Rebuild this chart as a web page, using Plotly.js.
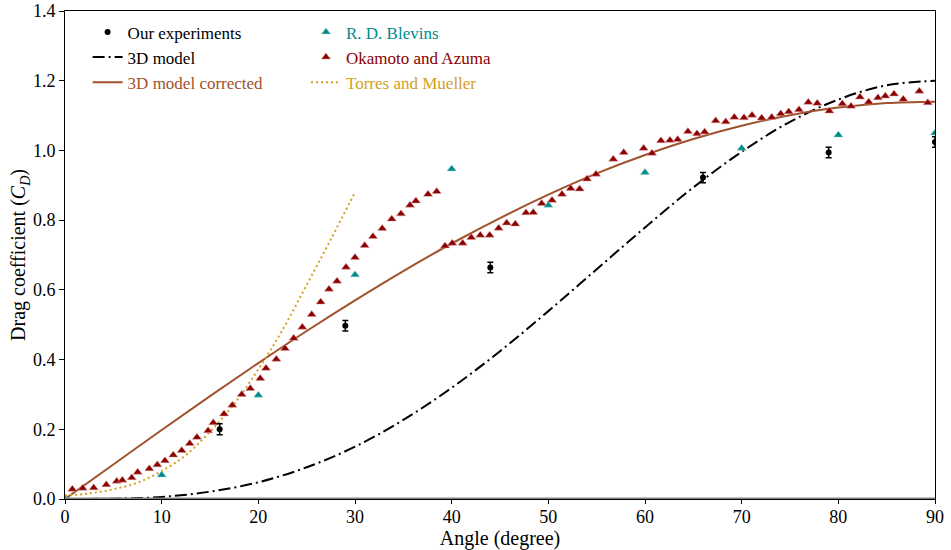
<!DOCTYPE html>
<html>
<head>
<meta charset="utf-8">
<script src="https://cdn.plot.ly/plotly-3.0.1.min.js"></script>
<style>html,body{margin:0;padding:0;background:#fff;}#chart{width:951px;height:550px;}</style>
</head>
<body>
<div id="chart"></div>
<script>
// Our experiments
const expAngle = [16, 29, 44, 66, 79, 90];
const expCd    = [0.200, 0.497, 0.664, 0.922, 0.994, 1.024];
const expErr   = [0.016, 0.015, 0.015, 0.015, 0.015, 0.015];

// R. D. Blevins
const blevAngle = [0, 10, 20, 30, 40, 50, 60, 70, 80, 90];
const blevCd    = [0.0, 0.069, 0.298, 0.643, 0.947, 0.843, 0.937, 1.006, 1.044, 1.05];

// Okamoto and Azuma
const okaAngle = [0.76, 1.83, 2.97, 4.27, 5.35, 5.93, 6.90, 7.52, 8.72, 9.55,
  10.34, 11.2, 12.07, 12.9, 13.65, 14.8, 15.34, 16.45, 17.31, 18.28,
  19.17, 20.2, 20.79, 21.86, 22.76, 23.66, 24.55, 25.52, 26.45, 27.31,
  28.14, 29.07, 30.0, 31.0, 31.86, 32.82, 33.8, 34.76, 35.69, 36.3,
  37.55, 38.45, 39.31, 40.06, 41.14, 42.03, 42.96, 43.93, 44.86, 45.69,
  46.58, 47.69, 48.44, 49.31, 50.38, 51.41, 52.31, 53.24, 54.0, 54.93,
  56.72, 57.8, 59.86, 60.72, 61.65, 62.58, 63.38, 64.44, 65.38, 66.17,
  67.31, 68.35, 69.24, 70.24, 71.07, 72.07, 73.11, 74.04, 74.87, 75.93,
  76.89, 77.82, 79.07, 80.41, 81.31, 82.24, 83.14, 84.1, 84.86, 85.76,
  86.72, 88.38, 89.25];
const okaCd = [0.028, 0.031, 0.032, 0.041, 0.051, 0.054, 0.061, 0.077, 0.087, 0.098,
  0.110, 0.126, 0.139, 0.159, 0.177, 0.196, 0.219, 0.244, 0.269, 0.300,
  0.317, 0.346, 0.375, 0.401, 0.432, 0.461, 0.493, 0.529, 0.565, 0.602,
  0.625, 0.665, 0.693, 0.727, 0.753, 0.776, 0.803, 0.818, 0.843, 0.855,
  0.874, 0.882, 0.726, 0.734, 0.734, 0.750, 0.757, 0.757, 0.777, 0.792,
  0.789, 0.821, 0.822, 0.848, 0.857, 0.874, 0.891, 0.889, 0.918, 0.932,
  0.975, 0.994, 1.006, 0.992, 1.028, 1.029, 1.031, 1.054, 1.048, 1.053,
  1.085, 1.082, 1.095, 1.094, 1.101, 1.093, 1.095, 1.105, 1.111, 1.117,
  1.138, 1.135, 1.113, 1.134, 1.127, 1.153, 1.139, 1.151, 1.156, 1.162,
  1.147, 1.170, 1.137];

// 3D model (read every 5 degrees)
const modelAngle = [0, 5, 10, 15, 20, 25, 30, 35, 40, 45, 50, 55, 60, 65, 70, 75, 80, 85, 90];
const modelCd    = [0, 0.001, 0.006, 0.021, 0.048, 0.091, 0.150, 0.227, 0.319, 0.424,
                    0.539, 0.659, 0.779, 0.894, 0.996, 1.082, 1.146, 1.187, 1.200];

// 3D model corrected
const corrAngle = [0, 5, 10, 15, 20, 25, 30, 35, 40, 45, 50, 55, 60, 65, 70, 75, 80, 85, 90];
const corrCd    = [0, 0.099, 0.198, 0.295, 0.390, 0.482, 0.570, 0.654, 0.733, 0.806,
                   0.873, 0.934, 0.987, 1.033, 1.071, 1.101, 1.123, 1.136, 1.140];

// Torres and Mueller
const torAngle = [0, 2.5, 5, 7.5, 10, 12.5, 15, 17.5, 20, 22.5, 25, 27.5, 30];
const torCd    = [0.010, 0.016, 0.028, 0.047, 0.080, 0.126, 0.193, 0.273, 0.372, 0.485, 0.614, 0.745, 0.880];

const xTicks = [0, 10, 20, 30, 40, 50, 60, 70, 80, 90];
const yTicks = [0.0, 0.2, 0.4, 0.6, 0.8, 1.0, 1.2, 1.4];

const cBrown = '#A0522D', cRed = '#8B0000', cTeal = '#008B8B', cGold = '#D4A020';
const FONT = 'Liberation Serif, Times New Roman, serif';

const traces = [
  {x: modelAngle, y: modelCd, mode: 'lines', name: '3D model', legend: 'legend',
   line: {color: '#000', width: 2, dash: '12px,4px,2px,4px', shape: 'spline'}, legendrank: 2},
  {x: corrAngle, y: corrCd, mode: 'lines', name: '<span style="fill:' + cBrown + '">3D model corrected</span>', legend: 'legend',
   line: {color: cBrown, width: 2, shape: 'spline'}, legendrank: 3},
  {x: torAngle, y: torCd, mode: 'lines', name: '<span style="fill:' + cGold + '">Torres and Mueller</span>', legend: 'legend2',
   line: {color: cGold, width: 2, dash: '2px,3px', shape: 'spline'}, legendrank: 3},
  {x: blevAngle, y: blevCd, mode: 'markers', name: '<span style="fill:' + cTeal + '">R. D. Blevins</span>', legend: 'legend2',
   marker: {symbol: 'triangle-up', size: 8, color: cTeal, line: {color: '#9fd0d0', width: 0.5}}, legendrank: 1},
  {x: okaAngle, y: okaCd, mode: 'markers', name: '<span style="fill:' + cRed + '">Okamoto and Azuma</span>', legend: 'legend2',
   marker: {symbol: 'triangle-up', size: 8, color: cRed, line: {color: '#e0a0a0', width: 0.5}}, legendrank: 2},
  {x: expAngle, y: expCd, mode: 'markers', name: 'Our experiments', legend: 'legend',
   marker: {symbol: 'circle', size: 6, color: '#000'},
   error_y: {type: 'data', array: expErr, visible: true, color: '#000', thickness: 1.5, width: 3}, legendrank: 1}
];

const layout = {
  width: 951, height: 550,
  margin: {l: 65, r: 16, t: 11, b: 51},
  paper_bgcolor: '#fff', plot_bgcolor: '#fff',
  font: {family: FONT, size: 17, color: '#000'},
  showlegend: true,
  xaxis: {range: [0, 90], tickvals: xTicks, ticktext: xTicks.map(String),
    showgrid: false, zeroline: false, showline: true, linecolor: '#000', linewidth: 1, mirror: true,
    ticks: 'outside', ticklen: 4, tickcolor: '#000', tickfont: {family: FONT, size: 18}, ticklabelstandoff: -3,
    title: {text: 'Angle (degree)', font: {family: FONT, size: 20}, standoff: 2}},
  yaxis: {range: [0, 1.4], tickvals: yTicks, ticktext: yTicks.map(v => v.toFixed(1)),
    showgrid: false, zeroline: false, showline: true, linecolor: '#000', linewidth: 1, mirror: true,
    ticks: 'outside', ticklen: 5, tickcolor: '#000', tickfont: {family: FONT, size: 18},
    title: {text: 'Drag coefficient (<i>C</i><sub><i>D</i></sub>)', font: {family: FONT, size: 20}, standoff: 1}},
  legend: {x: 0.026, y: 0.993, xanchor: 'left', yanchor: 'top', bgcolor: 'rgba(0,0,0,0)',
    font: {family: FONT, size: 17, color: '#000'}, traceorder: 'normal', tracegroupgap: 0},
  legend2: {x: 0.277, y: 0.993, xanchor: 'left', yanchor: 'top', bgcolor: 'rgba(0,0,0,0)',
    font: {family: FONT, size: 17, color: '#000'}, traceorder: 'normal', tracegroupgap: 0},
  shapes: [{type: 'line', xref: 'paper', yref: 'y', x0: 0, x1: 1, y0: 0, y1: 0,
    line: {color: '#808080', width: 3}}]
};

Plotly.newPlot('chart', traces, layout, {staticPlot: true});
</script>
</body>
</html>
